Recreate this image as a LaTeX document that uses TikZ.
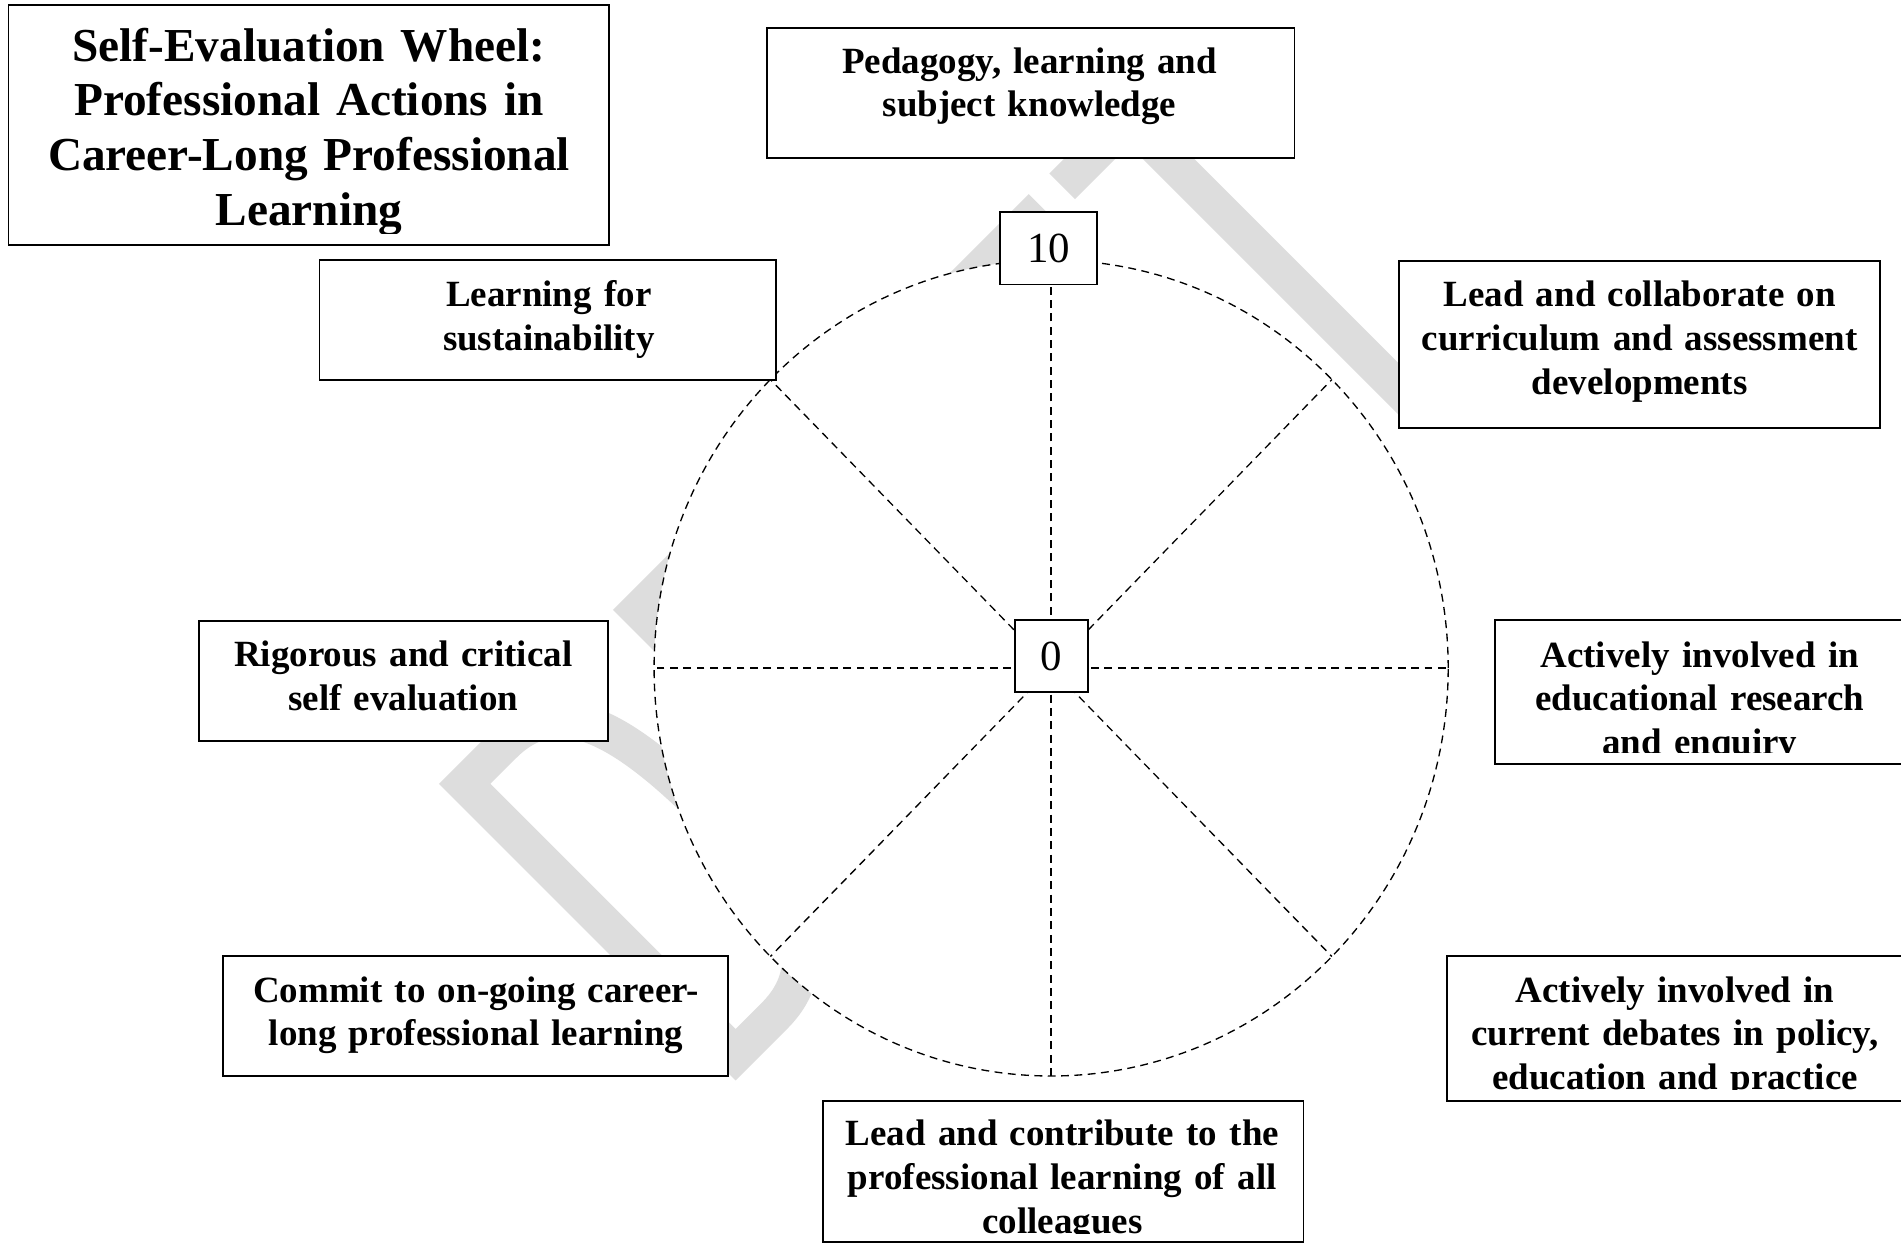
\documentclass[tikz,border=0pt]{standalone}
\usepackage{fontspec}
\setmainfont{Liberation Serif}
\definecolor{wm}{RGB}{221,221,221}
\tikzset{
  wbox/.style={draw=black, line width=1.5pt, fill=white, inner sep=0pt, outer sep=0pt},
  numbox/.style={wbox, font=\fontsize{35.4}{40}\selectfont},
  btext/.style={anchor=base, inner sep=0pt, outer sep=0pt, text width=700pt, align=center, font=\bfseries\fontsize{30.5}{36}\selectfont},
  ttext/.style={btext, font=\bfseries\fontsize{39}{45.1}\selectfont},
  spoke/.style={line width=1.1pt, dash pattern=on 6.5pt off 4.5pt},
  wmark/.style={draw=wm, line width=30pt, line cap=rect, line join=miter},
}
\begin{document}
\begin{tikzpicture}[x=1pt, y=1pt]
\fill[white] (0,0) rectangle (1568,-1026);
\useasboundingbox (0,0) rectangle (1568,-1026);
\clip (0,0) rectangle (1568,-1026);

% watermark
\begin{scope}[shift={(606.7,-891.2)}, rotate=45, wmark]
  % D
  \draw (15,15) -- (15,331) -- (60,331) .. controls (120,331) and (140,280) .. (140,173)
        .. controls (140,66) and (120,15) .. (60,15) -- cycle;
  % R
  \draw (218,15) -- (218,331) -- (290,331) .. controls (345,331) and (358,300) .. (358,258)
        .. controls (358,212) and (340,188) .. (290,188) -- (218,188);
  \draw (295,188) -- (365,15);
  % A
  \draw[line join=bevel] (385,15) -- (462,331) -- (540,15);
  \draw (420,105) -- (505,105);
  % F
  \draw (575,15) -- (575,331) -- (673,331);
  \draw (575,185) -- (650,185);
  % T
  \draw (727,331) -- (855,331);
  \draw (790,15) -- (790,331);
\end{scope}

% wheel
\coordinate (c) at (867,-551);
\fill[white] (c) ellipse [x radius=327.5pt, y radius=336.5pt];
\draw[spoke] (c) ellipse [x radius=327.5pt, y radius=336.5pt];
\foreach \a in {0,45,...,315} {
  \path (c) ++(\a:327.5pt and 336.5pt) coordinate (r\a);
  \draw[spoke] (c) -- (r\a);
}

% boxes
\node[wbox, minimum width=495.6pt, minimum height=198pt] (title) at (254.8,-103) {};
\node[wbox, minimum width=435pt, minimum height=107.6pt] (ped) at (850.2,-76.6) {};
\node[wbox, minimum width=376.7pt, minimum height=99.1pt] (sust) at (451.95,-264.05) {};
\node[wbox, minimum width=396.7pt, minimum height=137.5pt] (collab) at (1352.05,-283.95) {};
\node[wbox, minimum width=337.2pt, minimum height=98.9pt] (rig) at (332.6,-561.45) {};
\node[wbox, minimum width=347pt, minimum height=118.6pt] (research) at (1406.5,-570.7) {};
\node[wbox, minimum width=416.1pt, minimum height=99.1pt] (commit) at (392.15,-838.25) {};
\node[wbox, minimum width=386.2pt, minimum height=119.4pt] (debates) at (1386.9,-848.2) {};
\node[wbox, minimum width=396.7pt, minimum height=116.9pt] (contrib) at (876.85,-966.25) {};
\node[numbox, minimum width=80pt, minimum height=59.9pt] (ten) at (864.9,-204.75) {10};
\node[numbox, minimum width=59.9pt, minimum height=59.2pt] (zero) at (867.15,-541.2) {0};

% texts (clipped to their boxes)
\begin{scope}
  \clip (7,-4) rectangle (502.6,-193);
  \node[ttext] (t-title) at (254.8,-50.5) {Self-Evaluation Wheel:\\Professional Actions in\\Career-Long Professional\\Learning};
\end{scope}
\begin{scope}
  \clip (632.7,-22.8) rectangle (1067.7,-122);
  \node[btext] (t-ped) at (849.2,-60.5) {Pedagogy, learning and\\subject knowledge};
\end{scope}
\begin{scope}
  \clip (263.6,-214.5) rectangle (640.3,-305);
  \node[btext] (t-sust) at (452.7,-252.7) {Learning for\\sustainability};
\end{scope}
\begin{scope}
  \clip (1153.7,-215.2) rectangle (1550.4,-344);
  \node[btext] (t-collab) at (1352.5,-253) {Lead and collaborate on\\curriculum and assessment\\developments};
\end{scope}
\begin{scope}
  \clip (164,-512) rectangle (501.2,-602);
  \node[btext] (t-rig) at (332.6,-550) {Rigorous and critical\\self evaluation};
\end{scope}
\begin{scope}
  \clip (1233,-511.4) rectangle (1580,-621);
  \node[btext] (t-research) at (1402,-550.4) {Actively involved in\\educational research\\and enquiry};
\end{scope}
\begin{scope}
  \clip (184.1,-788.7) rectangle (600.2,-879);
  \node[btext] (t-commit) at (392.6,-826.5) {Commit to on-going career-\\long professional learning};
\end{scope}
\begin{scope}
  \clip (1193.8,-788.5) rectangle (1580,-898.7);
  \node[btext] (t-debates) at (1381.6,-826.5) {Actively involved in\\current debates in policy,\\education and practice};
\end{scope}
\begin{scope}
  \clip (678.5,-907.8) rectangle (1075.2,-1017.8);
  \node[btext] (t-contrib) at (876.2,-945) {Lead and contribute to the\\professional learning of all\\colleagues};
\end{scope}
\end{tikzpicture}
\end{document}
